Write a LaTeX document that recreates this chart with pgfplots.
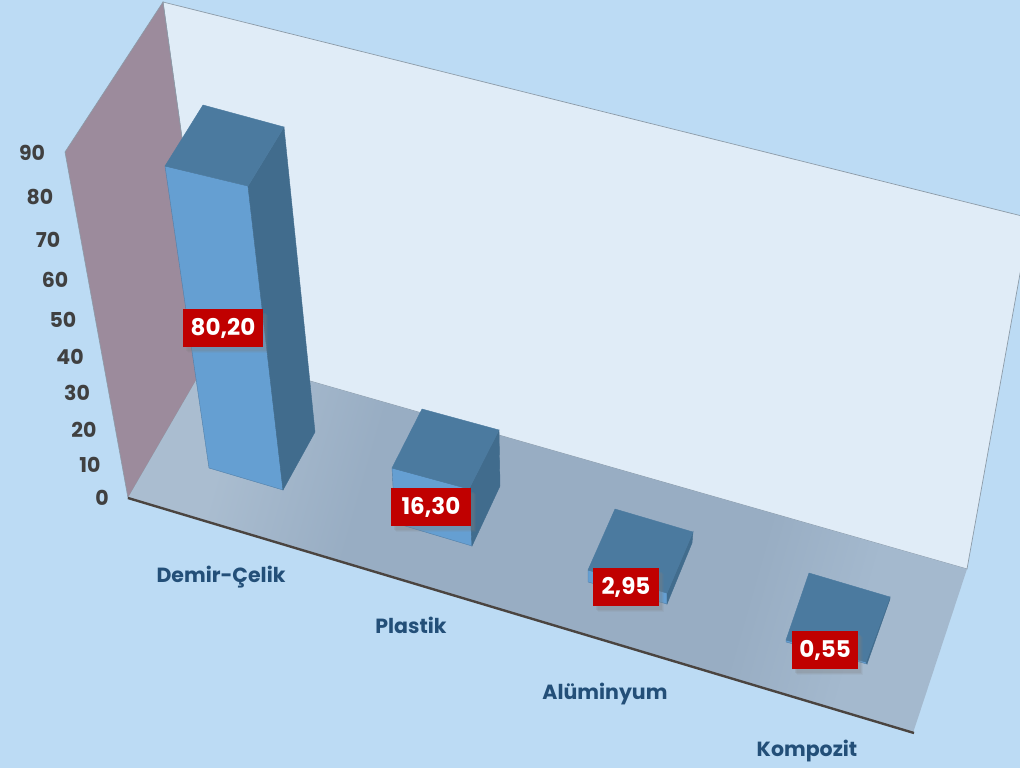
\documentclass[border=0pt]{standalone}
\usepackage{fontspec}
\setmainfont{Poppins}
\usepackage{pgfplots}
\pgfplotsset{compat=1.18}
\usetikzlibrary{shadows}
\definecolor{bg}{HTML}{BCDBF4}
\definecolor{wallback}{HTML}{E0ECF7}
\definecolor{wallleft}{HTML}{9C8B9C}
\definecolor{floorA}{HTML}{AABDD0}
\definecolor{floorB}{HTML}{98ADC3}
\definecolor{floorC}{HTML}{A4B9CE}
\definecolor{barfront}{HTML}{659FD2}
\definecolor{bartop}{HTML}{4B7A9F}
\definecolor{barside}{HTML}{416C8D}
\definecolor{edgeg}{HTML}{8C9BA8}
\definecolor{axisline}{HTML}{4A4440}
\definecolor{ticktxt}{HTML}{404040}
\definecolor{cattxt}{HTML}{234F78}
\definecolor{lab}{HTML}{C00000}
\pgfdeclarehorizontalshading{floorsh}{100bp}{color(0bp)=(floorA); color(27bp)=(floorA); color(37bp)=(floorB); color(64bp)=(floorB); color(72bp)=(floorC); color(100bp)=(floorC)}
\pgfplotsset{
  front/.style={fill=barfront,draw=barfront!80!black,line width=0.4pt},
  topf/.style={fill=bartop,draw=bartop,line width=0.4pt},
  sidef/.style={fill=barside,draw=barside,line width=0.4pt},
  txt/.style={draw=none,no marks,point meta=explicit symbolic,nodes near coords,nodes near coords style={anchor=center,inner sep=0pt,#1}},
}
\begin{document}
\begin{tikzpicture}
\begin{axis}[
  scale only axis,width=1020pt,height=768pt,
  xmin=0,xmax=1020,ymin=0,ymax=768,y dir=reverse,
  hide axis,clip=true]
% background
\addplot[fill=bg,draw=none] coordinates {(0,0)(1020,0)(1020,768)(0,768)} --cycle;
% walls
\addplot[fill=wallback,draw=edgeg,line width=0.7pt] coordinates {(163,2)(1030,218)(967,569)(212,353)} --cycle;
\addplot[fill=wallleft,draw=edgeg,line width=0.6pt] coordinates {(128,498)(65,152)(163,2)(212,353)} --cycle;
% floor
\addplot[draw=none,shading=floorsh,shading angle=-16] coordinates {(128,498)(212,353)(967,569)(913,733)} --cycle;
\addplot[draw=axisline,line width=2.4pt] coordinates {(128,498)(914,733)};
% Demir-Celik, 80.20
\addplot[front] coordinates {(165,166)(248,186)(283,490)(209,468)} --cycle;
\addplot[sidef] coordinates {(248,186)(284,127)(315,432)(283,490)} --cycle;
\addplot[topf] coordinates {(165,166)(203,105)(284,127)(248,186)} --cycle;
% Plastik, 16.30
\addplot[front] coordinates {(392,468)(469,489)(472,546)(395,523)} --cycle;
\addplot[sidef] coordinates {(469,489)(499,430)(500,486)(472,546)} --cycle;
\addplot[topf] coordinates {(392,468)(422,409)(499,430)(469,489)} --cycle;
% Aluminyum, 2.95
\addplot[front] coordinates {(588,570)(667,593)(667,604)(588,582)} --cycle;
\addplot[sidef] coordinates {(667,593)(693,532)(692,543)(667,604)} --cycle;
\addplot[topf] coordinates {(588,570)(615,509)(693,532)(667,593)} --cycle;
% Kompozit, 0.55
\addplot[front] coordinates {(786,640)(866,662)(867,664)(786,642)} --cycle;
\addplot[sidef] coordinates {(866,662)(890,597)(890,599)(867,664)} --cycle;
\addplot[topf] coordinates {(786,640)(809,573)(890,597)(866,662)} --cycle;
% y tick labels
\addplot[txt={text=ticktxt,font=\fontsize{20.5}{20}\selectfont\bfseries}] table[x=x,y=y,meta=t,row sep=\\] {
x y t\\
32 153 90\\
40 197 80\\
48 240 70\\
55 280 60\\
63 320 50\\
70 357 40\\
77 393 30\\
84 430 20\\
90 465 10\\
102 498 0\\
};
% category labels
\addplot[txt={text=cattxt,font=\fontsize{20.5}{22}\selectfont\bfseries}] table[x=x,y=y,meta=t,row sep=\\] {
x y t\\
221 577 Demir-Çelik\\
411 625 Plastik\\
605 694 Alüminyum\\
807 751 Kompozit\\
};
% value labels
\addplot[txt={text=white,fill=lab,font=\fontsize{23}{24}\selectfont\bfseries,minimum height=38pt,
  drop shadow={shadow xshift=5pt,shadow yshift=-6pt,opacity=0.10},
  drop shadow={shadow xshift=4pt,shadow yshift=-5pt,opacity=0.14},
  drop shadow={shadow xshift=2.5pt,shadow yshift=-3.5pt,opacity=0.18}}] table[x=x,y=y,meta=t,row sep=\\] {
x y t\\
223 328 {\makebox[80pt]{80,20}}\\
431 507 {\makebox[80pt]{16,30}}\\
626 587 {\makebox[66pt]{2,95}}\\
825 650 {\makebox[66pt]{0,55}}\\
};
\end{axis}
\end{tikzpicture}
\end{document}
